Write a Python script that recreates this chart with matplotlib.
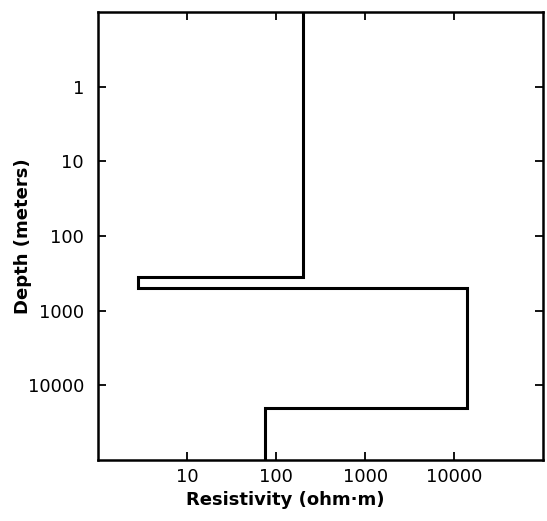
import numpy as np
import matplotlib
matplotlib.use("Agg")
import matplotlib.pyplot as plt
from matplotlib.ticker import FixedLocator, NullLocator

# layered resistivity model
layer_tops = [0.1, 350, 500, 20000]        # depth of each layer top (m)
layer_bottom = 1e5                          # bottom of plot (m)
resistivity = [200, 2.8, 14000, 75]         # ohm-m

xticks = [10, 100, 1000, 10000]
yticks = [1, 10, 100, 1000, 10000]

# build the staircase profile
xs, ys = [], []
bottoms = layer_tops[1:] + [layer_bottom]
for r, top, bot in zip(resistivity, layer_tops, bottoms):
    xs += [r, r]
    ys += [top, bot]

fig = plt.figure(figsize=(5.47, 5.21), dpi=100)
ax = fig.add_axes([0.179, 0.117, 0.814, 0.860])

ax.plot(xs, ys, color="black", lw=2.2, solid_joinstyle="miter")

ax.set_xscale("log")
ax.set_yscale("log")
ax.set_xlim(1, 1e5)
ax.set_ylim(1e5, 0.1)

ax.xaxis.set_major_locator(FixedLocator(xticks))
ax.yaxis.set_major_locator(FixedLocator(yticks))
ax.xaxis.set_minor_locator(NullLocator())
ax.yaxis.set_minor_locator(NullLocator())
ax.set_xticklabels([str(v) for v in xticks])
ax.set_yticklabels([str(v) for v in yticks])

ax.tick_params(which="major", direction="in", length=6, width=1.3,
               top=True, right=True, labelsize=13)
ax.tick_params(axis="x", pad=6)
ax.tick_params(axis="y", pad=10)

for s in ax.spines.values():
    s.set_linewidth(1.8)

ax.set_xlabel("Resistivity (ohm·m)", fontsize=13, fontweight="bold")
ax.set_ylabel("Depth (meters)", fontsize=13, fontweight="bold")
ax.xaxis.set_label_coords(0.42, -0.068)
ax.yaxis.set_label_coords(-0.148, 0.50)

fig.savefig("out.png", dpi=100)
